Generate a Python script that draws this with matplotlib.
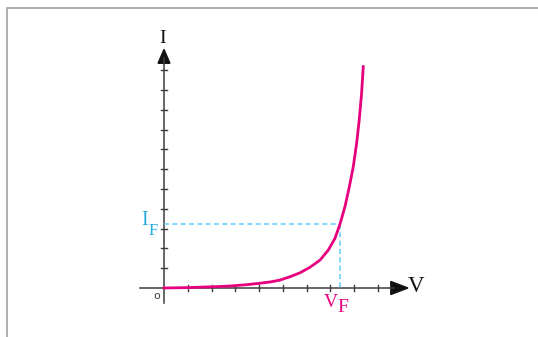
import numpy as np
import matplotlib.pyplot as plt
from matplotlib.patches import Polygon

# Curva del diodo (V en divisiones, I en divisiones)
v_pts = [0.0, 1.0, 2.0, 2.78, 3.5, 4.04, 4.5, 4.88, 5.31, 5.73, 6.15, 6.57, 6.92,
         7.20, 7.41, 7.62, 7.81, 7.97, 8.11, 8.22, 8.32, 8.39]
i_pts = [0.0, 0.02, 0.06, 0.10, 0.17, 0.24, 0.31, 0.40, 0.57, 0.77, 1.05, 1.41, 1.92,
         2.51, 3.23, 4.11, 5.15, 6.13, 7.31, 8.48, 9.83, 11.18]
VF, IF = 7.41, 3.23
x_ticks = [1, 2, 3, 4, 5, 6, 7, 8, 9]
y_ticks = [1, 2, 3, 4, 5, 6, 7, 8, 9, 10, 11]

# colores
magenta = "#e6007e"
cian = "#29abe2"
cian_claro = "#6dcff6"
gris = "#3c3c3c"

fig = plt.figure(figsize=(5.38, 3.37), dpi=100)
ax = fig.add_axes([0, 0, 1, 1])
ax.set_xlim(-164/23.75, (538-164)/23.75)
ax.set_ylim(-49/19.8, 288/19.8)
ax.axis("off")

# marco gris
ax.plot([7/538, 7/538, 1.0], [0.0, 1-8/337, 1-8/337], color="#a8a8a8",
        lw=1.3, transform=ax.transAxes, clip_on=False)

# ejes
ax.plot([-1.0, 9.7], [0, 0], color=gris, lw=1.1)
ax.plot([0, 0], [-0.75, 11.6], color=gris, lw=1.1)
ax.add_patch(Polygon([[10.27, 0], [9.55, 0.33], [9.55, -0.33]], closed=True, color="#111111"))
ax.add_patch(Polygon([[0, 12.05], [-0.25, 11.35], [0.25, 11.35]], closed=True, color="#111111"))

for xt in x_ticks:
    ax.plot([xt, xt], [-0.15, 0.15], color=gris, lw=1.0)
for yt in y_ticks:
    ax.plot([-0.14, 0.13], [yt, yt], color=gris, lw=1.0)

# lineas punteadas
ax.plot([0, VF], [IF, IF], "--", color=cian_claro, lw=1.2, dashes=(3, 2))
ax.plot([VF, VF], [IF, 0], "--", color=cian_claro, lw=1.2, dashes=(3, 2))

# curva
ax.plot(v_pts, i_pts, "-", color=magenta, lw=2.0, solid_joinstyle="round")

# textos
serif = "Liberation Serif"
ax.text(-0.08, 12.6, "I", family=serif, fontsize=14, color="#111111", ha="center", va="center")
ax.text(10.6, 0.1, "V", family=serif, fontsize=16.5, color="#111111", ha="center", va="center")
ax.text(-0.83, 3.43, "I", family=serif, fontsize=14.5, color=cian, ha="center", va="center")
ax.text(-0.44, 2.86, "F", family=serif, fontsize=12, color=cian, ha="center", va="center")
ax.text(7.02, -0.72, "V", family=serif, fontsize=14, color=magenta, ha="center", va="center")
ax.text(7.52, -0.98, "F", family=serif, fontsize=14, color=magenta, ha="center", va="center")
ax.text(-0.30, -0.40, "o", family="DejaVu Sans", fontsize=8, color=gris, ha="center", va="center")

fig.savefig("out.png", dpi=100)
